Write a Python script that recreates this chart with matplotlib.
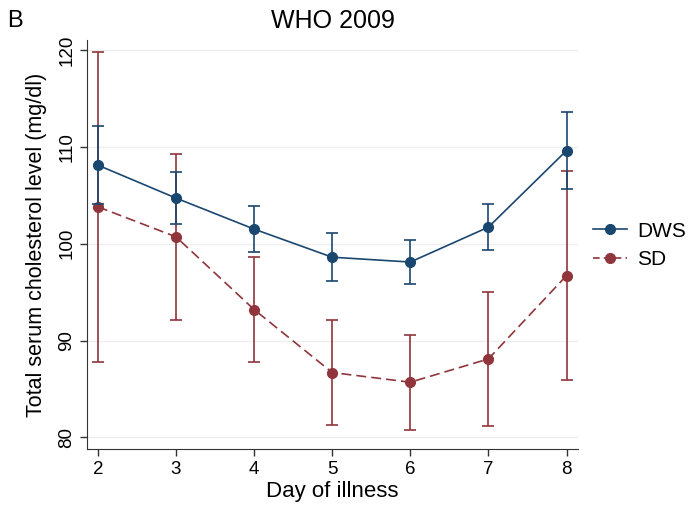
import numpy as np
import matplotlib.pyplot as plt
from matplotlib.lines import Line2D

plt.rcParams['font.family'] = ['Liberation Sans', 'DejaVu Sans']

# Datos
dias = [2, 3, 4, 5, 6, 7, 8]
dws_media = [108.1, 104.7, 101.5, 98.6, 98.1, 101.7, 109.6]
dws_err = [4.0, 2.7, 2.4, 2.45, 2.3, 2.35, 4.0]
sd_media = [103.8, 100.7, 93.2, 86.7, 85.7, 88.1, 96.7]
sd_err = [16.0, 8.6, 5.4, 5.4, 4.9, 6.9, 10.8]

azul = "#1a476f"
rojo = "#90353b"

fig = plt.figure(figsize=(6.9, 5.08), dpi=100)
ax = fig.add_axes([0.126, 0.116, 0.712, 0.805])

ax.errorbar(dias, dws_media, yerr=dws_err, color=azul, marker="o", markersize=7,
            linewidth=1.2, elinewidth=1.2, capsize=4, capthick=1.2, zorder=3)
ax.errorbar(dias, sd_media, yerr=sd_err, color=rojo, marker="o", markersize=7,
            linewidth=1.2, linestyle="--", dashes=(6, 3), elinewidth=1.2, capsize=4,
            capthick=1.2, zorder=2)

ax.set_xlim(1.86, 8.15)
ax.set_ylim(78.8, 121)
ax.set_xticks(dias)
ax.set_yticks([80, 90, 100, 110, 120])
ax.tick_params(axis="both", labelsize=13.5, length=5, width=1, color="#333333")
for lbl in ax.get_yticklabels():
    lbl.set_rotation(90)
    lbl.set_va("center")
ax.grid(axis="y", color="#eeeeee", linewidth=1)
ax.set_axisbelow(True)
for s in ["top", "right"]:
    ax.spines[s].set_visible(False)
for s in ["left", "bottom"]:
    ax.spines[s].set_color("#333333")

ax.set_xlabel("Day of illness", fontsize=16, labelpad=2)
ax.set_ylabel("Total serum cholesterol level (mg/dl)", fontsize=15.5, labelpad=8)
ax.set_title("WHO 2009", fontsize=18, pad=9)
fig.text(0.011, 0.958, "B", fontsize=17, va="center")

hand = [Line2D([], [], color=azul, marker="o", markersize=7, linewidth=1.2),
        Line2D([], [], color=rojo, marker="o", markersize=7, linewidth=1.2,
               linestyle="--", dashes=(4, 2.5))]
leg = fig.legend(hand, ["DWS", "SD"], loc="center left", bbox_to_anchor=(0.859, 0.517),
                 frameon=False, fontsize=15, handlelength=1.65, handletextpad=0.5,
                 labelspacing=0.45, borderpad=0, borderaxespad=0)

plt.savefig("out.png", dpi=100)
